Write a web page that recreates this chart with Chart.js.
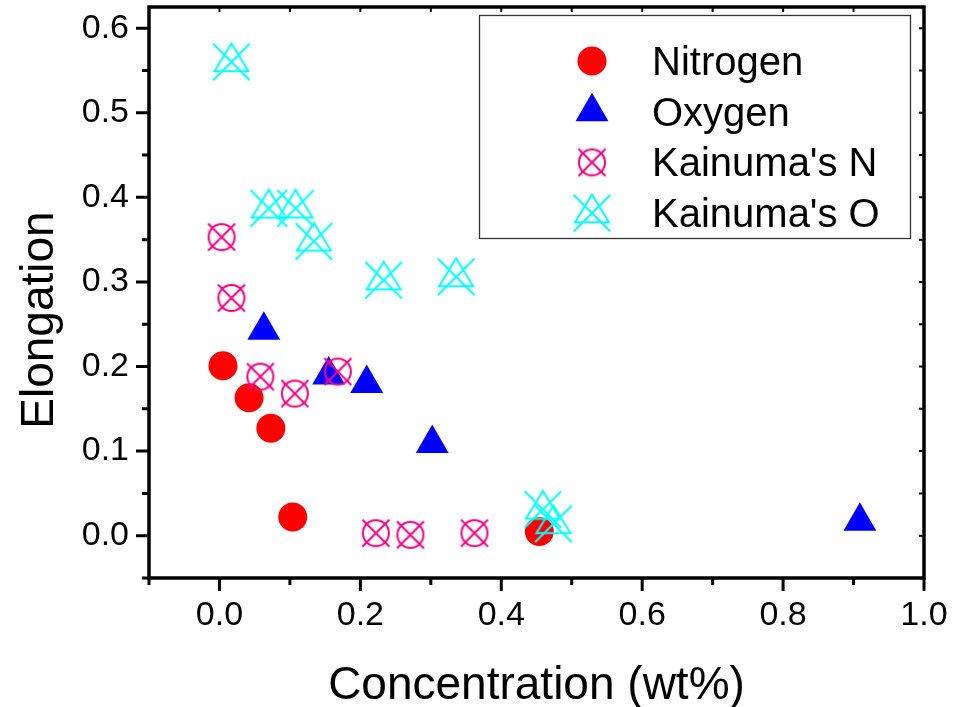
<!DOCTYPE html>
<html>
<head>
<meta charset="utf-8">
<script src="https://cdn.jsdelivr.net/npm/chart.js@4.4.1/dist/chart.umd.min.js"></script>
<style>
  html, body { margin: 0; padding: 0; background: #fff; }
</style>
</head>
<body>
<canvas id="grafico" width="968" height="707"></canvas>
<script>
// ==============================
// DATOS
// ==============================
const nombres = ["Nitrogen", "Oxygen", "Kainuma's N", "Kainuma's O"];

const nitrogenoX = [0.005, 0.042, 0.073, 0.104, 0.454];
const nitrogenoY = [0.201, 0.163, 0.127, 0.022, 0.005];

const oxigenoX = [0.063, 0.155, 0.209, 0.302, 0.909];
const oxigenoY = [0.243, 0.190, 0.180, 0.109, 0.017];

const kainumaNX = [0.003, 0.017, 0.058, 0.107, 0.168, 0.222, 0.271, 0.362];
const kainumaNY = [0.353, 0.281, 0.188, 0.168, 0.194, 0.003, 0.001, 0.003];

const kainumaOX = [0.017, 0.070, 0.108, 0.134, 0.233, 0.336, 0.459, 0.474];
const kainumaOY = [0.560, 0.387, 0.387, 0.348, 0.302, 0.306, 0.031, 0.014];

const xTicks = [0.0, 0.2, 0.4, 0.6, 0.8, 1.0];
const yTicks = [0.0, 0.1, 0.2, 0.3, 0.4, 0.5, 0.6];

const FUENTE = '"Liberation Sans", Arial, Helvetica, sans-serif';

// ==============================
// MARCADORES HUECOS
// ==============================
function marcaCirculoX(color) {
    const c = document.createElement("canvas");
    c.width = 32; c.height = 32;
    const g = c.getContext("2d");
    g.strokeStyle = color;
    g.lineWidth = 2;
    g.beginPath();
    g.arc(16, 16, 13, 0, Math.PI * 2);
    g.stroke();
    g.beginPath();
    g.moveTo(2.5, 2.5); g.lineTo(29.5, 29.5);
    g.moveTo(29.5, 2.5); g.lineTo(2.5, 29.5);
    g.stroke();
    return c;
}

function marcaTrianguloX(color) {
    const c = document.createElement("canvas");
    c.width = 40; c.height = 40;
    const g = c.getContext("2d");
    g.strokeStyle = color;
    g.lineWidth = 2;
    g.beginPath();
    g.moveTo(20, 1.5);
    g.lineTo(37, 29.3);
    g.lineTo(3, 29.3);
    g.closePath();
    g.stroke();
    g.beginPath();
    g.moveTo(1.7, 1.7); g.lineTo(38.3, 38.3);
    g.moveTo(38.3, 1.7); g.lineTo(1.7, 38.3);
    g.stroke();
    return c;
}

const puntos = (xs, ys) => xs.map((x, i) => ({ x: x, y: ys[i] }));

const series = [
    { label: nombres[0], data: puntos(nitrogenoX, nitrogenoY), pointStyle: "circle", pointRadius: 14.5, backgroundColor: "#ff0000", borderColor: "#ff0000", borderWidth: 0, order: 3 },
    { label: nombres[1], data: puntos(oxigenoX, oxigenoY), pointStyle: "triangle", pointRadius: 19, backgroundColor: "#0000ff", borderColor: "#0000ff", borderWidth: 0, order: 2 },
    { label: nombres[2], data: puntos(kainumaNX, kainumaNY), pointStyle: marcaCirculoX("#ff0080"), pointRadius: 16, backgroundColor: "#ff0080", borderColor: "#ff0080", borderWidth: 0, order: 1 },
    { label: nombres[3], data: puntos(kainumaOX, kainumaOY), pointStyle: marcaTrianguloX("#00ffff"), pointRadius: 20, backgroundColor: "#00ffff", borderColor: "#00ffff", borderWidth: 0, order: 0 }
];

// ==============================
// MARCO, TICKS Y TÍTULOS
// ==============================
const marcoEjes = {
    id: "marcoEjes",
    afterDraw(chart) {
        const { ctx, chartArea: a, scales } = chart;
        const sx = scales.x, sy = scales.y;
        ctx.save();
        ctx.strokeStyle = "#000";
        ctx.lineCap = "butt";

        // ticks exteriores (abajo e izquierda)
        ctx.lineWidth = 3;
        ctx.beginPath();
        for (let v = -0.1; v <= 1.0001; v += 0.1) {
            const px = sx.getPixelForValue(v);
            const mayor = xTicks.some(t => Math.abs(t - v) < 1e-6);
            ctx.moveTo(px, a.bottom);
            ctx.lineTo(px, a.bottom + (mayor ? 13 : 7));
        }
        for (let v = -0.05; v <= 0.6001; v += 0.05) {
            const py = sy.getPixelForValue(v);
            const mayor = yTicks.some(t => Math.abs(t - v) < 1e-6);
            ctx.moveTo(a.left, py);
            ctx.lineTo(a.left - (mayor ? 13 : 7), py);
        }
        ctx.stroke();

        // ticks interiores (arriba y derecha)
        ctx.lineWidth = 2;
        ctx.beginPath();
        for (let v = 0.0; v <= 0.9001; v += 0.1) {
            const px = sx.getPixelForValue(v);
            ctx.moveTo(px, a.top);
            ctx.lineTo(px, a.top + 5);
        }
        for (let v = 0.0; v <= 0.6001; v += 0.05) {
            const py = sy.getPixelForValue(v);
            ctx.moveTo(a.right, py);
            ctx.lineTo(a.right - 5, py);
        }
        ctx.stroke();

        // marco
        ctx.lineWidth = 3.5;
        ctx.strokeRect(a.left, a.top, a.right - a.left, a.bottom - a.top);

        // títulos de ejes
        ctx.fillStyle = "#000";
        ctx.font = "46px " + FUENTE;
        ctx.textAlign = "center";
        ctx.textBaseline = "alphabetic";
        ctx.fillText("Concentration (wt%)", (a.left + a.right) / 2, 699);
        ctx.translate(53, 320);
        ctx.rotate(-Math.PI / 2);
        ctx.fillText("Elongation", 0, 0);
        ctx.restore();
    }
};

// ==============================
// LEYENDA
// ==============================
const leyenda = {
    id: "leyenda",
    afterDraw(chart) {
        const ctx = chart.ctx;
        ctx.save();
        ctx.fillStyle = "#fff";
        ctx.fillRect(479.5, 15.5, 431, 223);
        ctx.strokeStyle = "#333";
        ctx.lineWidth = 1.3;
        ctx.strokeRect(479.5, 15.5, 431, 223);

        ctx.font = "40px " + FUENTE;
        ctx.textBaseline = "alphabetic";
        ctx.textAlign = "left";
        chart.data.datasets.forEach((ds, i) => {
            const cy = 61 + i * 50.7;
            ctx.fillStyle = ds.backgroundColor;
            ctx.strokeStyle = ds.borderColor;
            Chart.helpers.drawPoint(ctx, {
                pointStyle: ds.pointStyle,
                radius: ds.pointRadius,
                borderWidth: 0,
                rotation: 0
            }, 592, cy);
            ctx.fillStyle = "#000";
            ctx.fillText(ds.label, 652, cy + 14);
        });
        ctx.restore();
    }
};

// ==============================
// GRÁFICA
// ==============================
new Chart(document.getElementById("grafico"), {
    type: "scatter",
    data: { datasets: series },
    options: {
        responsive: false,
        animation: false,
        events: [],
        layout: {
            autoPadding: false,
            padding: { top: 7, right: 44, bottom: 0, left: 0 }
        },
        plugins: {
            legend: { display: false },
            tooltip: { enabled: false }
        },
        scales: {
            x: {
                type: "linear",
                min: -0.1,
                max: 1.0,
                afterBuildTicks: s => { s.ticks = xTicks.map(v => ({ value: v })); },
                afterFit: s => {
                    s.height = 707 - 578;
                    s.paddingLeft = 0; s.paddingRight = 0;
                },
                ticks: {
                    callback: v => Number(v).toFixed(1),
                    font: { family: FUENTE, size: 34 },
                    color: "#000",
                    padding: 17,
                    maxRotation: 0
                },
                grid: { display: false, drawTicks: false },
                border: { display: false }
            },
            y: {
                type: "linear",
                min: -0.05,
                max: 0.625,
                afterBuildTicks: s => { s.ticks = yTicks.map(v => ({ value: v })); },
                afterFit: s => {
                    s.width = 149;
                    s.paddingTop = 0; s.paddingBottom = 0;
                },
                ticks: {
                    callback: v => Number(v).toFixed(1),
                    font: { family: FUENTE, size: 34 },
                    color: "#000",
                    padding: 20
                },
                grid: { display: false, drawTicks: false },
                border: { display: false }
            }
        }
    },
    plugins: [marcoEjes, leyenda]
});
</script>
</body>
</html>
